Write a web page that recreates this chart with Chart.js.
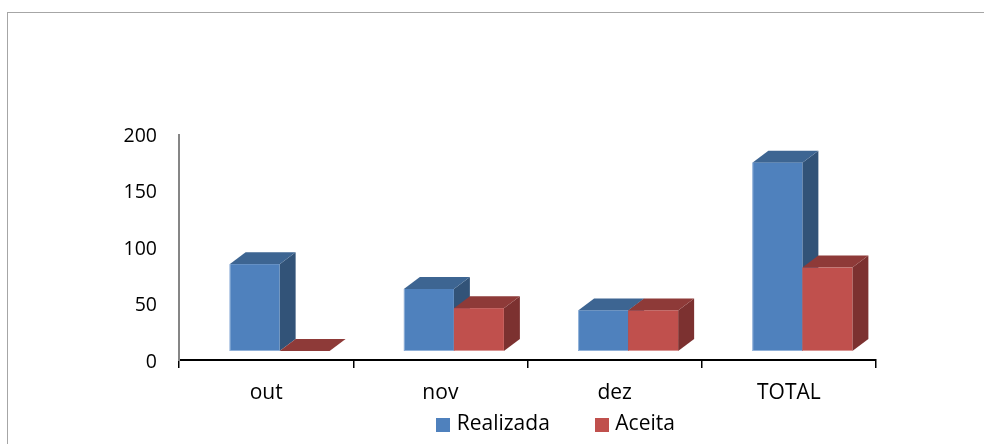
<!DOCTYPE html>
<html>
<head>
<meta charset="utf-8">
<script src="https://cdn.jsdelivr.net/npm/chart.js@4"></script>
<style>
    html, body { margin: 0; background: #fff; }
    #wrap { position: relative; width: 984px; height: 444px; overflow: hidden; }
    #frame { position: absolute; left: 7px; top: 12px; width: 990px; height: 450px; border: 1px solid #a6a6a6; }
    canvas { position: absolute; left: 0; top: 0; }
</style>
</head>
<body>
<div id="wrap">
    <div id="frame"></div>
    <canvas id="chart" width="984" height="444"></canvas>
</div>
<script>
const categories = ['out', 'nov', 'dez', 'TOTAL'];
const realizada = [77, 55, 36, 167];
const aceita = [0, 38, 36, 74];
const yTicks = [0, 50, 100, 150, 200];

// front, top and side colours of each column
const shades = [
    { front: '#4f81bd', top: '#3d6592', side: '#325378', edge: 'rgba(190,210,235,0.6)', leftEdge: true },
    { front: '#c0504d', top: '#8e3a38', side: '#7c3130', edge: 'rgba(235,195,195,0.6)', leftEdge: false }
];

// the columns stand a little in front of the axes
const shiftX = 13.5, shiftY = -9;
const depthX = 16, depthY = 12;

const fontName = 'Open Sans';

function drawColumn(ctx, bar, colors) {
    const l = bar.x - bar.width / 2 + shiftX;
    const r = l + bar.width;
    const t = bar.y + shiftY;
    const b = bar.base + shiftY;

    ctx.fillStyle = colors.side;
    ctx.beginPath();
    ctx.moveTo(r, t);
    ctx.lineTo(r + depthX, t - depthY);
    ctx.lineTo(r + depthX, b - depthY);
    ctx.lineTo(r, b);
    ctx.closePath();
    ctx.fill();

    ctx.fillStyle = colors.top;
    ctx.beginPath();
    ctx.moveTo(l, t);
    ctx.lineTo(l + depthX, t - depthY);
    ctx.lineTo(r + depthX, t - depthY);
    ctx.lineTo(r, t);
    ctx.closePath();
    ctx.fill();

    if (b > t) {
        ctx.fillStyle = colors.front;
        ctx.fillRect(l, t, bar.width, b - t);
        ctx.strokeStyle = colors.edge;
        ctx.lineWidth = 1;
        ctx.beginPath();
        ctx.moveTo(l + 0.5, colors.leftEdge ? t : b - 0.5);
        ctx.lineTo(l + 0.5, b - 0.5);
        ctx.lineTo(r, b - 0.5);
        ctx.stroke();
    }
}

const columns3d = {
    id: 'columns3d',
    beforeDatasetsDraw(chart) {
        const ctx = chart.ctx;
        ctx.save();
        chart.data.datasets.forEach((ds, i) => {
            chart.getDatasetMeta(i).data.forEach(bar => drawColumn(ctx, bar, shades[i]));
        });
        ctx.restore();
        return false; // the flat bars are replaced
    },
    afterLayout(chart) {
        // move the legend from the top down under the axis labels
        const legend = chart.legend;
        legend.left = 391.25;
        legend.right = 984;
        legend.top = 365.5;
        legend.bottom = 444;
    }
};

// legend marker as an image, so it can sit closer to its text
function legendSwatch(color) {
    const c = document.createElement('canvas');
    c.width = 14;
    c.height = 14;
    const g = c.getContext('2d');
    g.fillStyle = color;
    g.fillRect(0, 0, 14, 14);
    return c;
}

new Chart(document.getElementById('chart'), {
    type: 'bar',
    data: {
        labels: categories,
        datasets: [
            { label: 'Realizada', data: realizada, backgroundColor: shades[0].front, borderWidth: 0, pointStyle: legendSwatch(shades[0].front) },
            { label: 'Aceita', data: aceita, backgroundColor: shades[1].front, borderWidth: 0, pointStyle: legendSwatch(shades[1].front) }
        ]
    },
    options: {
        responsive: false,
        animation: false,
        categoryPercentage: 0.574,
        barPercentage: 1,
        layout: { padding: { top: 55, right: 108, left: 0, bottom: 0 } },
        plugins: {
            tooltip: { enabled: false },
            legend: {
                position: 'top',
                align: 'start',
                labels: {
                    usePointStyle: true,
                    pointStyleWidth: 6.5,
                    boxHeight: 14,
                    padding: 48.5,
                    color: '#000',
                    font: { family: fontName, size: 21 }
                }
            }
        },
        scales: {
            x: {
                grid: { display: true, drawOnChartArea: false, color: '#000', tickLength: 8, lineWidth: 1.5 },
                border: { color: '#000', width: 2 },
                ticks: { color: '#000', padding: 12, maxRotation: 0, font: { family: fontName, size: 21 } },
                afterFit(axis) { axis.height = 84; }
            },
            y: {
                min: 0,
                max: 200,
                afterBuildTicks(axis) { axis.ticks = yTicks.map(value => ({ value })); },
                grid: { display: false },
                border: { color: '#868686', width: 2 },
                ticks: { color: '#000', padding: 14, labelOffset: 2, font: { family: fontName, size: 19.5 } },
                afterFit(axis) { axis.width = 179; }
            }
        }
    },
    plugins: [columns3d]
});
</script>
</body>
</html>
